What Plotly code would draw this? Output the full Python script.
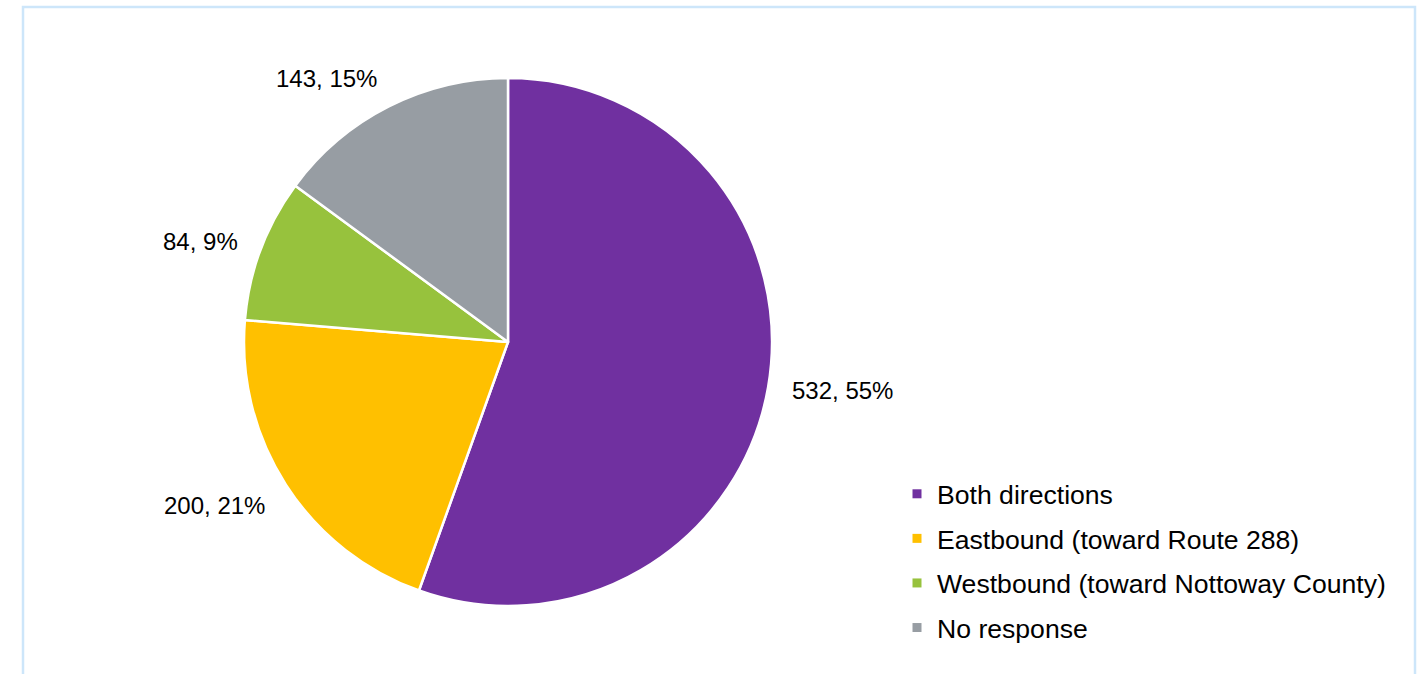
import math
import plotly.graph_objects as go

# Survey responses: preferred travel direction
categories = [
    "Both directions",
    "Eastbound (toward Route 288)",
    "Westbound (toward Nottoway County)",
    "No response",
]
counts = [532, 200, 84, 143]
colors = ["#7030A0", "#FFC000", "#97C23D", "#979DA3"]

W, H = 1421, 674
CX, CY, R = 508, 342, 264          # pie centre and radius in pixels
LABEL_R = R + 22                    # anchor distance of data labels from centre
LABEL_SIZE = 24
TEXT_PAD = 7                        # line-box padding above/below the glyphs

fig = go.Figure()

fig.add_trace(go.Pie(
    labels=categories,
    values=counts,
    sort=False,
    direction="clockwise",
    rotation=0,
    marker=dict(colors=colors, line=dict(color="white", width=2.5)),
    textinfo="none",
    hoverinfo="label+value+percent",
    showlegend=False,
    domain=dict(x=[(CX - R) / W, (CX + R) / W],
                y=[1 - (CY + R) / H, 1 - (CY - R) / H]),
))

# Data labels "value, percent" placed just outside the end of each slice
total = sum(counts)
cum = 0
annotations = []
for v in counts:
    mid = (cum + v / 2) / total * 2 * math.pi
    cum += v
    s, c = math.sin(mid), math.cos(mid)
    px = CX + LABEL_R * s
    py = CY - LABEL_R * c
    xanchor = "left" if s > 0.25 else ("right" if s < -0.25 else "center")
    if c > 0.5:
        yanchor, yshift = "bottom", -TEXT_PAD
    elif c < -0.5:
        yanchor, yshift = "top", TEXT_PAD
    else:
        yanchor, yshift = "middle", 0
    annotations.append(dict(
        x=px / W, y=1 - py / H, xref="paper", yref="paper",
        text=f"{v}, {round(100 * v / total)}%",
        showarrow=False, xanchor=xanchor, yanchor=yanchor, yshift=yshift,
        font=dict(size=LABEL_SIZE, color="#000000"),
    ))

# Legend entries drawn as square markers
for name, col in zip(categories, colors):
    fig.add_trace(go.Scatter(
        x=[None], y=[None], mode="markers", name=name,
        legendgroup=name,
        marker=dict(symbol="square", size=9, color=col),
    ))

fig.update_layout(
    width=W, height=H,
    margin=dict(l=0, r=0, t=0, b=0),
    paper_bgcolor="white",
    plot_bgcolor="white",
    font=dict(family="Liberation Sans, Arial, sans-serif", color="#000000"),
    annotations=annotations,
    xaxis=dict(visible=False),
    yaxis=dict(visible=False),
    legend=dict(
        x=897 / W, y=1 - 470 / H, xanchor="left", yanchor="top",
        font=dict(size=26.6, color="#000000"),
        tracegroupgap=7,
        bgcolor="rgba(0,0,0,0)",
    ),
    shapes=[dict(
        type="rect", xref="paper", yref="paper",
        x0=23 / W, x1=1415 / W, y0=-0.05, y1=1 - 7 / H,
        line=dict(color="#CDE6FA", width=2.5),
        fillcolor="rgba(0,0,0,0)", layer="below",
    )],
)

fig.write_html("out.html")
